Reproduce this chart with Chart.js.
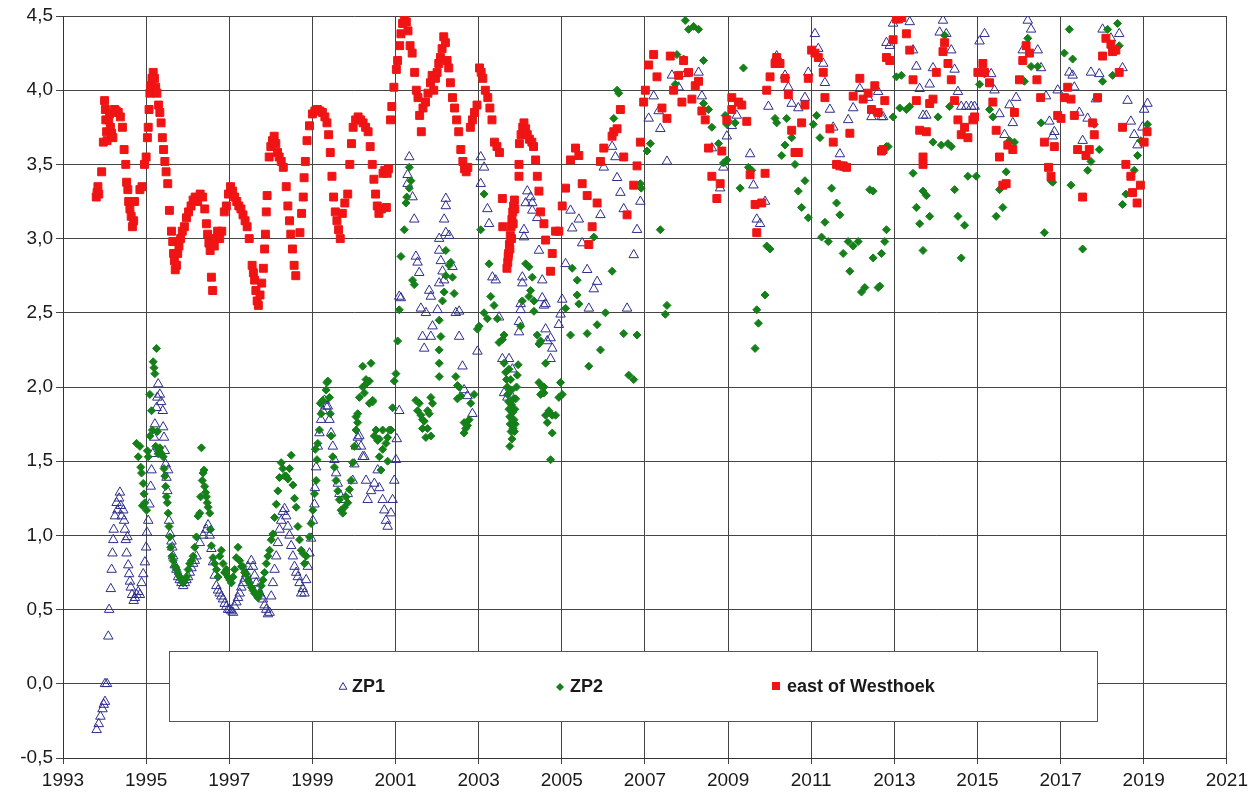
<!DOCTYPE html>
<html>
<head>
<meta charset="utf-8">
<script src="https://cdn.jsdelivr.net/npm/chart.js@4"></script>
<style>
  html, body { margin: 0; padding: 0; background: #ffffff; }
  #wrap { width: 1253px; height: 792px; position: relative; }
</style>
</head>
<body>
<div id="wrap"><canvas id="c" width="1253" height="792"></canvas></div>
<script>
// ---- data: [decimal year, value] ----
const seriesNames = ["ZP1", "ZP2", "east of Westhoek"];

const zp1 = [
[1993.81,-0.31],[1993.86,-0.27],[1993.90,-0.22],[1993.95,-0.17],[1993.98,-0.14],[1994.01,-0.12],[1994.01,0.00],[1994.06,0.00],
[1994.09,0.32],[1994.11,0.50],[1994.15,0.64],[1994.17,0.77],[1994.19,0.88],[1994.21,0.97],[1994.22,1.04],[1994.25,1.13],
[1994.29,1.22],[1994.31,1.17],[1994.35,1.25],[1994.37,1.29],[1994.39,1.20],[1994.41,1.13],[1994.45,1.17],[1994.47,1.10],
[1994.49,1.04],[1994.51,0.97],[1994.53,0.88],[1994.55,0.99],[1994.57,0.80],[1994.59,0.74],[1994.61,0.69],[1994.63,0.65],
[1994.66,0.60],[1994.70,0.56],[1994.73,0.58],[1994.77,0.60],[1994.81,0.62],[1994.85,0.60],[1994.89,0.68],[1994.93,0.74],
[1994.97,0.82],[1995.00,0.92],[1995.02,1.02],[1995.05,1.10],[1995.08,1.21],[1995.11,1.33],[1995.13,1.44],[1995.16,1.55],
[1995.19,1.66],[1995.21,1.75],[1995.25,1.86],[1995.27,1.93],[1995.29,2.02],[1995.33,1.95],[1995.36,1.90],[1995.40,1.84],
[1995.41,1.73],[1995.43,1.66],[1995.45,1.57],[1995.47,1.48],[1995.49,1.39],[1995.51,1.30],[1995.53,1.44],[1995.55,1.10],
[1995.58,1.01],[1995.61,0.96],[1995.63,0.92],[1995.65,0.86],[1995.69,0.80],[1995.73,0.77],[1995.77,0.72],[1995.81,0.70],
[1995.85,0.68],[1995.89,0.66],[1995.93,0.68],[1995.97,0.70],[1996.01,0.72],[1996.05,0.75],[1996.09,0.78],[1996.13,0.81],
[1996.17,0.83],[1996.21,0.86],[1996.29,0.95],[1996.37,1.00],[1996.45,1.04],[1996.49,1.07],[1996.53,1.00],[1996.57,0.91],
[1996.61,0.82],[1996.65,0.73],[1996.69,0.66],[1996.73,0.63],[1996.77,0.61],[1996.81,0.59],[1996.85,0.57],[1996.89,0.54],
[1996.93,0.52],[1996.97,0.50],[1997.01,0.50],[1997.05,0.49],[1997.09,0.48],[1997.13,0.52],[1997.17,0.55],[1997.21,0.58],
[1997.25,0.61],[1997.29,0.65],[1997.33,0.68],[1997.37,0.71],[1997.41,0.74],[1997.45,0.79],[1997.53,0.83],[1997.57,0.79],
[1997.61,0.73],[1997.65,0.68],[1997.69,0.64],[1997.73,0.61],[1997.77,0.59],[1997.81,0.57],[1997.85,0.53],[1997.89,0.50],
[1997.93,0.47],[1997.97,0.48],[1998.01,0.59],[1998.05,0.68],[1998.09,0.77],[1998.13,0.86],[1998.17,0.95],[1998.21,1.04],
[1998.25,1.10],[1998.29,1.16],[1998.33,1.18],[1998.37,1.13],[1998.41,1.06],[1998.45,1.00],[1998.49,0.93],[1998.53,0.86],
[1998.57,0.79],[1998.61,0.75],[1998.65,0.72],[1998.69,0.68],[1998.73,0.61],[1998.77,0.64],[1998.81,0.61],[1998.85,0.70],
[1998.89,0.79],[1998.93,0.88],[1998.97,0.98],[1999.01,1.10],[1999.05,1.21],[1999.06,1.32],[1999.09,1.46],[1999.13,1.60],
[1999.17,1.69],[1999.21,1.78],[1999.25,1.84],[1999.29,1.91],[1999.33,1.87],[1999.37,1.87],[1999.41,1.78],[1999.45,1.69],
[1999.49,1.60],[1999.53,1.51],[1999.57,1.42],[1999.61,1.35],[1999.65,1.28],[1999.73,1.24],[1999.85,1.28],[1999.97,1.37],
[2000.01,1.48],[2000.05,1.60],[2000.09,1.66],[2000.13,1.67],[2000.17,1.60],[2000.21,1.53],[2000.25,1.53],[2000.29,1.37],
[2000.33,1.24],[2000.41,1.30],[2000.49,1.35],[2000.57,1.44],[2000.61,1.32],[2000.69,1.24],[2000.73,1.17],[2000.77,1.10],
[2000.81,1.06],[2000.89,1.15],[2000.93,1.24],[2000.97,1.37],[2001.01,1.51],[2001.03,1.65],[2001.09,1.84],[2001.09,2.61],
[2001.13,2.60],[2001.33,3.55],[2001.29,3.43],[2001.29,3.37],[2001.41,3.28],[2001.45,3.13],[2001.49,2.88],[2001.53,2.84],
[2001.57,2.77],[2001.61,2.53],[2001.73,2.50],[2001.81,2.65],[2001.85,2.61],[2001.89,2.41],[2001.65,2.34],[2001.85,2.34],
[2001.69,2.26],[2002.01,2.52],[2002.05,3.00],[2002.05,2.92],[2002.09,2.85],[2002.21,3.27],[2002.21,3.22],[2002.17,3.13],
[2002.21,3.04],[2002.29,3.02],[2002.37,2.81],[2002.13,2.78],[2002.17,2.72],[2002.05,2.70],[2002.45,2.50],[2002.53,2.51],
[2002.53,2.34],[2002.61,2.14],[2002.65,1.98],[2002.73,1.94],[2002.85,1.82],[2002.97,2.24],[2003.05,3.55],[2003.13,3.48],
[2003.05,3.37],[2003.21,3.20],[2003.25,3.10],[2003.33,2.74],[2003.41,2.72],[2003.49,2.47],[2003.57,2.19],[2003.61,1.96],
[2003.69,1.93],[2003.81,1.93],[2003.73,2.19],[2003.81,2.12],[2004.01,2.52],[2003.97,2.44],[2003.97,2.37],[2004.05,2.74],
[2004.05,2.70],[2004.01,2.56],[2004.09,3.01],[2004.09,3.06],[2004.17,3.32],[2004.13,3.24],[2004.25,3.28],[2004.29,3.24],
[2004.29,3.19],[2004.41,3.14],[2004.45,2.92],[2004.53,2.72],[2004.61,2.56],[2004.61,2.39],[2004.65,2.31],[2004.53,2.60],
[2004.57,2.55],[2004.73,2.33],[2004.77,2.26],[2004.73,2.19],[2004.93,2.42],[2004.97,2.49],[2005.01,2.59],[2005.09,2.83],
[2005.21,3.19],[2005.25,3.07],[2005.41,3.13],[2005.49,2.97],[2005.61,2.79],[2005.65,2.53],[2005.85,2.71],[2005.77,2.66],
[2005.93,3.16],[2006.01,3.48],[2006.21,3.62],[2006.29,3.55],[2006.33,3.41],[2006.41,3.31],[2006.49,3.20],[2006.57,2.53],
[2006.73,2.89],[2006.81,3.06],[2006.89,3.25],[2007.09,3.81],[2007.21,3.96],[2007.33,3.86],[2007.37,3.74],[2007.53,3.52],
[2007.65,4.10],[2007.81,4.02],[2007.97,4.11],[2008.29,4.12],[2008.37,3.96],[2008.61,3.61],[2008.81,3.34],[2008.89,3.48],
[2008.97,3.69],[2009.09,3.76],[2009.21,3.83],[2009.53,3.57],[2009.61,3.36],[2009.69,3.13],[2009.77,3.10],[2009.89,3.25],
[2009.97,3.89],[2010.17,4.23],[2010.37,4.10],[2010.45,4.02],[2010.53,3.91],[2010.69,3.88],[2010.85,3.95],[2010.93,4.12],
[2011.09,4.38],[2011.17,4.28],[2011.29,4.18],[2011.33,4.05],[2011.45,3.87],[2011.53,3.75],[2011.69,3.57],[2011.81,3.48],
[2011.89,3.80],[2012.01,3.88],[2012.17,4.01],[2012.37,3.95],[2012.45,3.82],[2012.61,3.99],[2012.69,3.82],[2012.81,4.32],
[2012.73,3.82],[2012.89,4.30],[2012.97,4.45],[2013.37,4.46],[2013.45,4.27],[2013.53,4.16],[2013.61,4.01],[2013.69,3.83],
[2013.77,3.83],[2013.85,4.04],[2013.93,4.15],[2014.09,4.39],[2014.17,4.47],[2014.25,4.38],[2014.37,4.27],[2014.45,4.14],
[2014.53,3.99],[2014.61,3.89],[2014.73,3.89],[2014.85,3.89],[2014.93,3.89],[2015.05,4.33],[2015.17,4.38],[2015.33,4.11],
[2015.41,4.00],[2015.53,3.84],[2015.65,3.70],[2015.77,3.90],[2015.85,3.78],[2015.93,3.95],[2016.09,4.27],[2016.21,4.47],
[2016.29,4.41],[2016.45,4.27],[2016.53,4.15],[2016.65,3.96],[2016.73,3.79],[2016.81,3.69],[2016.85,3.72],[2016.93,4.00],
[2017.21,4.12],[2017.29,4.10],[2017.33,4.02],[2017.45,3.85],[2017.53,3.66],[2017.65,3.81],[2017.73,4.12],[2017.85,3.94],
[2017.93,4.11],[2018.01,4.41],[2018.21,4.35],[2018.41,4.38],[2018.49,4.15],[2018.61,3.93],[2018.69,3.79],[2018.77,3.70],
[2018.85,3.63],[2018.97,3.75],[2019.01,3.87],[2019.09,3.91]
];

const zp2 = [
[1994.77,1.62],[1994.81,1.53],[1994.85,1.60],[1994.87,1.46],[1994.89,1.42],[1994.93,1.35],[1994.95,1.28],[1994.97,1.22],
[1995.01,1.17],[1994.91,1.20],[1995.03,1.57],[1995.05,1.53],[1995.09,1.95],[1995.09,1.67],[1995.13,1.84],[1995.15,1.71],
[1995.17,2.17],[1995.19,2.13],[1995.21,2.09],[1995.25,2.26],[1995.23,1.60],[1995.27,1.70],[1995.29,1.55],[1995.31,1.57],
[1995.33,1.59],[1995.37,1.55],[1995.41,1.53],[1995.43,1.45],[1995.45,1.40],[1995.47,1.33],[1995.49,1.26],[1995.51,1.22],
[1995.53,1.15],[1995.55,1.06],[1995.57,0.99],[1995.59,0.92],[1995.62,0.86],[1995.65,0.83],[1995.69,0.79],[1995.73,0.77],
[1995.77,0.74],[1995.81,0.72],[1995.85,0.70],[1995.89,0.68],[1995.93,0.70],[1995.97,0.72],[1996.01,0.77],[1996.05,0.81],
[1996.09,0.83],[1996.13,0.86],[1996.17,0.92],[1996.21,0.99],[1996.25,1.13],[1996.29,1.15],[1996.31,1.26],[1996.33,1.59],
[1996.35,1.37],[1996.37,1.42],[1996.39,1.44],[1996.41,1.33],[1996.43,1.29],[1996.45,1.26],[1996.47,1.22],[1996.49,1.19],
[1996.53,1.15],[1996.55,1.04],[1996.57,0.93],[1996.61,0.85],[1996.65,0.81],[1996.69,0.77],[1996.73,0.72],[1996.77,0.86],
[1996.81,0.90],[1996.85,0.81],[1996.89,0.75],[1996.93,0.77],[1996.97,0.72],[1997.01,0.70],[1997.05,0.68],[1997.09,0.72],
[1997.13,0.77],[1997.17,0.85],[1997.21,0.92],[1997.25,0.83],[1997.29,0.79],[1997.33,0.79],[1997.37,0.75],[1997.41,0.74],
[1997.45,0.70],[1997.49,0.68],[1997.53,0.65],[1997.57,0.63],[1997.61,0.61],[1997.65,0.60],[1997.69,0.58],[1997.73,0.61],
[1997.77,0.66],[1997.81,0.70],[1997.85,0.75],[1997.89,0.81],[1997.93,0.86],[1997.97,0.90],[1998.01,0.97],[1998.05,1.01],
[1998.09,1.12],[1998.13,1.21],[1998.17,1.30],[1998.21,1.39],[1998.25,1.49],[1998.29,1.45],[1998.33,1.40],[1998.37,1.40],
[1998.41,1.38],[1998.45,1.45],[1998.49,1.54],[1998.53,1.34],[1998.57,1.25],[1998.61,1.19],[1998.65,1.06],[1998.69,0.97],
[1998.73,0.90],[1998.77,0.88],[1998.81,0.81],[1998.85,0.86],[1998.93,0.99],[1998.97,1.08],[1999.01,1.17],[1999.05,1.28],
[1999.07,1.58],[1999.09,1.37],[1999.11,1.51],[1999.13,1.62],[1999.17,1.71],[1999.19,1.89],[1999.21,1.82],[1999.25,1.91],
[1999.33,1.98],[1999.35,2.03],[1999.37,2.04],[1999.41,1.93],[1999.43,1.82],[1999.45,1.67],[1999.49,1.53],[1999.53,1.46],
[1999.57,1.37],[1999.61,1.30],[1999.65,1.24],[1999.69,1.17],[1999.73,1.15],[1999.77,1.19],[1999.81,1.26],[1999.85,1.22],
[1999.89,1.31],[1999.93,1.37],[1999.97,1.49],[2000.01,1.60],[2000.05,1.71],[2000.05,1.80],[2000.09,1.82],[2000.09,1.76],
[2000.13,1.93],[2000.21,2.00],[2000.21,2.14],[2000.25,1.96],[2000.29,2.02],[2000.29,2.05],[2000.37,2.04],[2000.37,1.89],
[2000.41,2.16],[2000.45,1.90],[2000.45,1.91],[2000.49,1.67],[2000.53,1.71],[2000.57,1.64],[2000.61,1.53],[2000.61,1.65],
[2000.65,1.44],[2000.69,1.71],[2000.69,1.58],[2000.77,1.62],[2000.81,1.66],[2000.81,1.50],[2000.85,1.71],[2000.89,1.71],
[2000.93,1.86],[2000.97,2.04],[2001.01,2.09],[2001.05,2.31],[2001.09,2.52],[2001.13,2.88],[2001.21,3.06],[2001.25,3.24],
[2001.27,3.28],[2001.33,3.34],[2001.37,3.39],[2001.33,3.48],[2001.41,2.72],[2001.45,2.69],[2001.49,1.91],[2001.53,1.84],
[2001.57,1.89],[2001.61,1.81],[2001.65,1.78],[2001.65,1.72],[2001.69,1.77],[2001.73,1.66],[2001.77,1.84],[2001.77,1.72],
[2001.81,1.82],[2001.85,1.93],[2001.85,1.67],[2001.89,1.89],[2002.05,2.45],[2002.09,2.34],[2002.05,2.25],[2002.05,2.16],
[2002.05,2.07],[2002.21,2.92],[2002.29,2.82],[2002.33,2.84],[2002.37,2.74],[2002.41,2.63],[2002.21,2.75],[2002.17,2.64],
[2002.13,2.58],[2002.45,2.07],[2002.49,2.01],[2002.49,1.92],[2002.53,2.00],[2002.57,1.94],[2002.65,1.76],[2002.65,1.69],
[2002.69,1.72],[2002.73,1.74],[2002.77,1.78],[2002.81,1.89],[2002.89,1.95],[2002.97,2.39],[2003.01,2.41],[2003.05,3.06],
[2003.13,3.30],[2003.13,2.50],[2003.21,2.46],[2003.25,2.83],[2003.29,2.61],[2003.37,2.55],[2003.45,2.46],[2003.49,2.30],
[2003.57,2.32],[2003.61,2.35],[2003.61,2.16],[2003.65,2.10],[2003.67,2.05],[2003.69,2.00],[2003.70,1.95],[2003.72,1.90],
[2003.73,1.85],[2003.75,1.80],[2003.76,1.75],[2003.78,1.70],[2003.80,1.65],[2003.75,1.60],[2003.83,1.72],[2003.85,1.78],
[2003.87,1.85],[2003.89,1.92],[2003.91,2.00],[2003.93,2.08],[2003.95,2.15],[2003.73,2.12],[2003.77,2.05],[2003.79,1.98],
[2003.84,1.92],[2003.86,1.70],[2003.88,1.75],[2003.82,1.83],[2003.79,1.88],[2003.81,1.78],[2004.01,2.41],[2004.05,2.58],
[2004.13,2.83],[2004.21,2.81],[2004.29,2.74],[2004.25,2.65],[2004.21,2.61],[2004.33,2.58],[2004.33,2.51],[2004.41,2.35],
[2004.45,2.29],[2004.49,2.31],[2004.45,2.03],[2004.53,2.00],[2004.61,2.16],[2004.57,2.00],[2004.57,1.96],[2004.49,1.95],
[2004.61,1.81],[2004.69,1.84],[2004.65,1.76],[2004.73,1.51],[2004.77,1.69],[2004.77,1.81],[2004.85,1.81],[2004.93,1.93],
[2005.01,1.95],[2004.97,2.03],[2005.09,2.53],[2005.21,2.35],[2005.25,2.80],[2005.37,2.72],[2005.37,2.62],[2005.41,2.56],
[2005.61,2.36],[2005.65,2.14],[2005.77,3.01],[2005.85,2.42],[2005.93,2.25],[2006.05,2.50],[2006.21,2.78],[2006.25,3.81],
[2006.33,4.00],[2006.37,3.98],[2006.49,2.36],[2006.61,2.08],[2006.73,2.05],[2006.81,2.35],[2006.89,3.37],[2006.91,3.34],
[2007.13,3.64],[2007.05,3.59],[2007.37,3.06],[2007.53,2.55],[2007.49,2.49],[2007.97,4.47],[2008.05,4.41],[2008.17,4.43],
[2008.29,4.41],[2007.73,4.04],[2007.77,4.24],[2007.93,4.21],[2008.41,4.20],[2008.41,3.91],[2008.53,3.87],[2008.61,3.75],
[2008.77,3.64],[2008.93,3.83],[2008.97,3.77],[2008.97,3.53],[2008.89,3.51],[2009.17,3.78],[2009.37,4.15],[2009.29,3.34],
[2009.49,3.48],[2009.57,3.46],[2009.65,2.26],[2009.69,2.52],[2009.73,2.43],[2009.89,2.62],[2009.93,2.95],[2010.01,2.93],
[2010.13,3.81],[2010.17,3.78],[2010.29,3.56],[2010.37,3.63],[2010.41,3.81],[2010.53,3.68],[2010.61,3.50],[2010.69,3.32],
[2010.77,3.21],[2010.85,3.39],[2010.93,3.14],[2011.05,3.77],[2011.13,3.83],[2011.21,3.68],[2011.25,3.01],[2011.41,2.98],
[2011.49,3.34],[2011.61,3.24],[2011.69,3.16],[2011.33,3.11],[2011.77,2.90],[2011.89,2.98],[2012.01,2.95],[2011.93,2.78],
[2012.13,2.98],[2012.21,2.64],[2012.29,2.67],[2012.49,2.87],[2012.61,2.67],[2012.69,2.90],[2012.77,2.98],[2012.41,3.33],
[2012.49,3.32],[2012.81,3.62],[2012.65,2.68],[2012.81,3.06],[2012.85,3.62],[2012.97,3.82],[2013.05,4.09],[2013.17,4.10],
[2013.13,3.88],[2013.29,3.87],[2013.37,3.89],[2013.45,3.44],[2013.53,3.21],[2013.61,3.10],[2013.69,3.32],[2013.77,3.29],
[2013.69,2.92],[2013.85,3.15],[2013.93,3.65],[2014.05,3.82],[2014.13,3.63],[2014.21,4.37],[2014.29,3.64],[2014.33,3.89],
[2014.37,3.62],[2014.45,3.33],[2014.53,3.15],[2014.61,2.87],[2014.69,3.09],[2014.77,3.42],[2014.97,3.42],[2015.05,4.04],
[2015.17,4.11],[2015.29,3.87],[2015.37,3.82],[2015.45,3.15],[2015.53,3.33],[2015.61,3.21],[2015.69,3.45],[2015.77,3.66],
[2015.89,3.65],[2016.13,4.06],[2016.21,4.35],[2016.29,4.16],[2016.45,4.16],[2016.53,3.78],[2016.61,3.04],[2016.77,3.39],
[2016.81,3.38],[2017.09,4.25],[2017.21,4.41],[2017.29,4.21],[2017.25,3.36],[2017.53,2.93],[2017.65,3.46],[2017.73,3.52],
[2017.81,3.77],[2017.93,3.60],[2018.01,4.06],[2018.13,4.41],[2018.25,4.10],[2018.37,4.45],[2018.41,4.30],[2018.49,3.23],
[2018.57,3.30],[2018.69,3.42],[2018.77,3.46],[2018.85,3.56],[2018.93,3.66],[2019.09,3.77]
];

const eastOfWesthoek = [
[1993.80,3.28],[1993.82,3.31],[1993.84,3.35],[1993.86,3.30],[1993.93,3.45],[1993.97,3.65],[1994.00,3.93],[1994.02,3.87],
[1994.03,3.80],[1994.05,3.72],[1994.06,3.66],[1994.10,3.80],[1994.12,3.84],[1994.14,3.75],[1994.17,3.71],[1994.20,3.68],
[1994.24,3.87],[1994.28,3.86],[1994.33,3.85],[1994.38,3.82],[1994.43,3.75],[1994.47,3.60],[1994.51,3.50],[1994.53,3.38],
[1994.56,3.33],[1994.58,3.25],[1994.61,3.20],[1994.64,3.15],[1994.67,3.08],[1994.70,3.12],[1994.72,3.25],[1994.85,3.33],
[1994.90,3.35],[1994.96,3.50],[1995.00,3.55],[1995.03,3.68],[1995.05,3.75],[1995.07,3.87],[1995.09,3.98],[1995.11,4.03],
[1995.14,4.08],[1995.17,4.12],[1995.20,4.08],[1995.23,4.02],[1995.26,3.98],[1995.30,3.90],[1995.33,3.85],[1995.36,3.78],
[1995.39,3.68],[1995.42,3.60],[1995.45,3.52],[1995.48,3.45],[1995.52,3.37],[1995.56,3.19],[1995.61,3.05],[1995.64,2.98],
[1995.66,2.90],[1995.68,2.85],[1995.70,2.79],[1995.73,2.82],[1995.76,2.90],[1995.79,2.95],[1995.83,3.00],[1995.87,3.05],
[1995.92,3.08],[1995.97,3.14],[1996.02,3.18],[1996.08,3.22],[1996.13,3.26],[1996.18,3.28],[1996.24,3.25],[1996.30,3.30],
[1996.36,3.28],[1996.41,3.20],[1996.45,3.10],[1996.48,3.03],[1996.51,2.97],[1996.54,2.92],[1996.57,2.74],[1996.60,2.65],
[1996.64,2.95],[1996.68,3.00],[1996.72,3.05],[1996.77,3.00],[1996.82,3.05],[1996.88,3.18],[1996.93,3.22],[1996.98,3.30],
[1997.03,3.35],[1997.08,3.32],[1997.13,3.28],[1997.18,3.25],[1997.23,3.22],[1997.28,3.20],[1997.33,3.16],[1997.38,3.12],
[1997.43,3.08],[1997.48,3.00],[1997.55,2.82],[1997.58,2.77],[1997.61,2.72],[1997.64,2.65],[1997.67,2.58],[1997.70,2.55],
[1997.74,2.62],[1997.78,2.70],[1997.82,2.80],[1997.85,2.93],[1997.87,3.03],[1997.89,3.18],[1997.91,3.29],[1997.96,3.55],
[1998.00,3.62],[1998.04,3.66],[1998.08,3.69],[1998.12,3.64],[1998.16,3.58],[1998.20,3.55],[1998.25,3.52],[1998.30,3.48],
[1998.37,3.35],[1998.41,3.22],[1998.45,3.12],[1998.48,3.03],[1998.52,2.93],[1998.56,2.82],[1998.60,2.75],[1998.70,3.04],
[1998.74,3.17],[1998.78,3.28],[1998.80,3.41],[1998.83,3.52],[1998.87,3.66],[1998.93,3.76],[1999.00,3.84],[1999.06,3.86],
[1999.12,3.87],[1999.18,3.86],[1999.24,3.85],[1999.30,3.82],[1999.35,3.78],[1999.39,3.70],[1999.43,3.58],[1999.47,3.42],
[1999.51,3.28],[1999.55,3.18],[1999.59,3.12],[1999.63,3.06],[1999.67,3.00],[1999.72,3.17],[1999.78,3.24],[1999.85,3.30],
[1999.90,3.50],[1999.94,3.64],[1999.98,3.75],[2000.04,3.80],[2000.10,3.82],[2000.16,3.80],[2000.22,3.78],[2000.28,3.75],
[2000.34,3.72],[2000.39,3.62],[2000.44,3.50],[2000.48,3.40],[2000.52,3.30],[2000.56,3.22],[2000.60,3.17],[2000.66,3.20],
[2000.70,3.44],[2000.74,3.46],[2000.78,3.21],[2000.80,3.44],[2000.83,3.47],[2000.88,3.80],[2000.91,3.89],[2000.96,4.02],
[2001.02,4.14],[2001.05,4.20],[2001.10,4.30],[2001.13,4.38],[2001.17,4.45],[2001.21,4.49],[2001.26,4.46],[2001.30,4.40],
[2001.35,4.30],[2001.40,4.25],[2001.46,4.12],[2001.50,4.00],[2001.54,3.95],[2001.58,3.83],[2001.62,3.72],[2001.66,3.88],
[2001.72,3.92],[2001.78,3.98],[2001.84,4.05],[2001.88,4.10],[2001.92,4.00],[2001.96,4.08],[2002.00,4.12],[2002.04,4.18],
[2002.08,4.22],[2002.12,4.28],[2002.16,4.36],[2002.20,4.32],[2002.24,4.20],[2002.28,4.15],[2002.32,4.05],[2002.37,3.95],
[2002.42,3.88],[2002.47,3.80],[2002.52,3.72],[2002.57,3.60],[2002.62,3.52],[2002.66,3.47],[2002.70,3.45],[2002.74,3.48],
[2002.80,3.75],[2002.85,3.80],[2002.90,3.85],[2002.96,3.90],[2003.02,4.15],[2003.06,4.12],[2003.10,4.08],[2003.16,4.00],
[2003.22,3.95],[2003.27,3.88],[2003.32,3.80],[2003.38,3.65],[2003.44,3.62],[2003.50,3.58],[2003.57,3.27],[2003.58,3.08],
[2003.68,2.80],[2003.70,2.84],[2003.72,2.90],[2003.74,2.96],[2003.76,3.02],[2003.78,3.08],[2003.80,3.13],[2003.82,3.18],
[2003.84,3.22],[2003.86,3.26],[2003.71,2.88],[2003.75,2.93],[2003.79,3.00],[2003.83,3.10],[2003.87,3.20],[2003.97,3.42],
[2003.97,3.50],[2003.98,3.64],[2004.02,3.70],[2004.06,3.75],[2004.09,3.78],[2004.13,3.74],[2004.17,3.70],[2004.22,3.67],
[2004.28,3.65],[2004.32,3.62],[2004.37,3.53],[2004.41,3.42],[2004.45,3.32],[2004.49,3.18],[2004.57,3.10],[2004.61,2.99],
[2004.73,2.78],[2004.77,2.90],[2004.85,3.05],[2004.93,3.05],[2005.01,3.22],[2005.09,3.34],[2005.21,3.53],[2005.33,3.61],
[2005.41,3.56],[2005.49,3.37],[2005.61,3.29],[2005.73,3.08],[2005.65,2.96],[2005.85,3.24],[2005.93,3.52],[2006.01,3.61],
[2006.21,3.69],[2006.25,3.72],[2006.33,3.74],[2006.41,3.87],[2006.49,3.55],[2006.57,3.16],[2006.73,3.36],[2006.81,3.49],
[2006.89,3.65],[2006.97,3.92],[2007.01,4.00],[2007.09,4.17],[2007.21,4.24],[2007.29,4.09],[2007.41,3.88],[2007.53,3.81],
[2007.61,4.23],[2007.69,4.00],[2007.81,4.10],[2007.89,3.92],[2007.93,4.20],[2008.05,4.12],[2008.13,3.94],[2008.21,4.03],
[2008.29,4.06],[2008.37,3.86],[2008.45,3.80],[2008.53,3.61],[2008.61,3.42],[2008.81,3.37],[2008.73,3.27],[2008.85,3.59],
[2008.97,3.80],[2009.09,3.87],[2009.09,3.95],[2009.25,3.92],[2009.33,3.90],[2009.45,3.79],[2009.53,3.43],[2009.65,3.23],
[2009.69,3.04],[2009.81,3.24],[2009.89,3.44],[2009.93,4.00],[2010.01,4.09],[2010.13,4.18],[2010.17,4.22],[2010.25,4.18],
[2010.37,4.08],[2010.45,3.97],[2010.53,3.73],[2010.61,3.58],[2010.69,3.58],[2010.77,3.78],[2010.85,3.90],[2010.93,4.08],
[2011.01,4.27],[2011.09,4.25],[2011.17,4.22],[2011.29,4.12],[2011.33,3.95],[2011.45,3.74],[2011.53,3.65],[2011.61,3.50],
[2011.69,3.49],[2011.77,3.49],[2011.85,3.48],[2011.93,3.71],[2012.01,3.96],[2012.17,4.08],[2012.25,3.94],[2012.37,3.98],
[2012.45,3.87],[2012.53,4.03],[2012.61,3.85],[2012.69,3.59],[2012.77,3.93],[2012.73,3.60],[2012.81,4.22],[2012.89,4.20],
[2012.97,4.34],[2013.05,4.48],[2013.10,4.48],[2013.18,4.49],[2013.08,4.50],[2013.29,4.38],[2013.37,4.27],[2013.45,4.07],
[2013.53,3.93],[2013.61,3.73],[2013.77,3.72],[2013.69,3.55],[2013.69,3.50],[2013.85,3.91],[2013.93,3.94],[2014.01,4.12],
[2014.17,4.26],[2014.21,4.32],[2014.29,4.18],[2014.37,4.07],[2014.45,3.93],[2014.53,3.80],[2014.61,3.70],[2014.69,3.75],
[2014.77,3.68],[2014.89,3.80],[2014.93,3.82],[2015.01,4.12],[2015.13,4.18],[2015.17,4.12],[2015.29,4.05],[2015.37,3.92],
[2015.45,3.73],[2015.53,3.55],[2015.61,3.36],[2015.69,3.37],[2015.73,3.63],[2015.85,3.60],[2015.89,3.85],[2016.01,4.07],
[2016.09,4.20],[2016.17,4.30],[2016.25,4.25],[2016.43,4.07],[2016.52,3.95],[2016.61,3.65],[2016.71,3.48],[2016.77,3.42],
[2016.85,3.62],[2016.93,3.83],[2017.01,3.81],[2017.09,3.95],[2017.17,4.02],[2017.25,3.94],[2017.33,3.83],[2017.41,3.60],
[2017.53,3.28],[2017.61,3.56],[2017.69,3.60],[2017.77,3.78],[2017.81,3.70],[2017.89,3.95],[2018.01,4.23],[2018.09,4.35],
[2018.21,4.31],[2018.25,4.26],[2018.33,4.27],[2018.41,4.12],[2018.49,3.75],[2018.57,3.50],[2018.69,3.42],[2018.73,3.31],
[2018.84,3.24],[2018.92,3.36],[2019.01,3.65],[2019.08,3.72]
];

const xMin = 1993, xMax = 2021, xStep = 2;
const yMin = -0.5, yMax = 4.5, yStep = 0.5;

// ---- colours / styles ----
const colZP1 = '#2e2e8e';
const colZP2 = '#15801a';
const colWest = '#f01414';
const gridCol = '#444444';
const fontFam = 'Arial, "Liberation Sans", Helvetica, sans-serif';

const toXY = arr => arr.map(p => ({ x: p[0], y: p[1] }));

const legendBox = {
  id: 'legendBox',
  afterDatasetsDraw(chart) {
    const ctx = chart.ctx;
    const L = 169, T = 651, R = 1098, B = 722;
    ctx.save();
    ctx.fillStyle = '#ffffff';
    ctx.fillRect(L, T, R - L, B - T);
    ctx.strokeStyle = '#555555';
    ctx.lineWidth = 1;
    ctx.strokeRect(L + 0.5, T + 0.5, R - L - 1, B - T - 1);
    const cy = 687;
    const items = [
      { mx: 343, tx: 352, ds: chart.data.datasets[0] },
      { mx: 560, tx: 570, ds: chart.data.datasets[1] },
      { mx: 776, tx: 787, ds: chart.data.datasets[2] }
    ];
    items.forEach(it => {
      const ds = it.ds;
      ctx.beginPath();
      if (ds.pointStyle === 'triangle') {
        const r = 4.5;
        ctx.moveTo(it.mx, cy - r);
        ctx.lineTo(it.mx + r * 0.866, cy + r * 0.5);
        ctx.lineTo(it.mx - r * 0.866, cy + r * 0.5);
        ctx.closePath();
        ctx.strokeStyle = ds.borderColor;
        ctx.lineWidth = 1;
        ctx.stroke();
      } else if (ds.pointStyle === 'rectRot') {
        const r = 4;
        ctx.moveTo(it.mx - r, cy);
        ctx.lineTo(it.mx, cy - r);
        ctx.lineTo(it.mx + r, cy);
        ctx.lineTo(it.mx, cy + r);
        ctx.closePath();
        ctx.fillStyle = ds.backgroundColor;
        ctx.fill();
      } else {
        ctx.rect(it.mx - 4, cy - 5, 8, 8);
        ctx.fillStyle = ds.backgroundColor;
        ctx.fill();
      }
      ctx.fillStyle = '#1a1a1a';
      ctx.font = 'bold 18px ' + fontFam;
      ctx.textAlign = 'left';
      ctx.textBaseline = 'middle';
      ctx.fillText(ds.label, it.tx, cy);
    });
    ctx.restore();
  }
};

const whiteBg = {
  id: 'whiteBg',
  beforeDraw(chart) {
    const ctx = chart.ctx;
    ctx.save();
    ctx.fillStyle = '#ffffff';
    ctx.fillRect(0, 0, chart.width, chart.height);
    ctx.restore();
  }
};

new Chart(document.getElementById('c'), {
  type: 'scatter',
  data: {
    datasets: [
      {
        label: seriesNames[0],
        data: toXY(zp1),
        pointStyle: 'triangle',
        pointRadius: 5.5,
        borderWidth: 1,
        borderColor: colZP1,
        backgroundColor: 'rgba(255,255,255,0)',
        order: 3
      },
      {
        label: seriesNames[1],
        data: toXY(zp2),
        pointStyle: 'rectRot',
        pointRadius: 4,
        borderWidth: 1,
        borderColor: colZP2,
        backgroundColor: colZP2,
        order: 2
      },
      {
        label: seriesNames[2],
        data: toXY(eastOfWesthoek),
        pointStyle: 'rect',
        pointRadius: 5.6,
        borderWidth: 1,
        borderColor: colWest,
        backgroundColor: colWest,
        order: 1
      }
    ]
  },
  options: {
    responsive: false,
    animation: false,
    events: [],
    layout: { padding: { left: 0, top: 16, right: 23, bottom: 0 } },
    plugins: {
      legend: { display: false },
      tooltip: { enabled: false }
    },
    scales: {
      x: {
        type: 'linear',
        min: xMin,
        max: xMax,
        afterFit: s => { s.height = 34; },
        ticks: {
          stepSize: xStep,
          autoSkip: false,
          maxRotation: 0,
          padding: 5,
          color: '#1a1a1a',
          font: { family: fontFam, size: 19 },
          callback: v => String(v)
        },
        grid: { color: gridCol, lineWidth: 1, tickLength: 6, tickColor: gridCol },
        border: { color: '#333333', width: 1 }
      },
      y: {
        type: 'linear',
        min: yMin,
        max: yMax,
        afterFit: s => { s.width = 63; },
        ticks: {
          stepSize: yStep,
          autoSkip: false,
          padding: 3,
          color: '#1a1a1a',
          font: { family: fontFam, size: 19 },
          callback: v => v.toFixed(1).replace('.', ',')
        },
        grid: { color: gridCol, lineWidth: 1, tickLength: 7, tickColor: gridCol },
        border: { color: '#333333', width: 1 }
      }
    }
  },
  plugins: [whiteBg, legendBox]
});
</script>
</body>
</html>
